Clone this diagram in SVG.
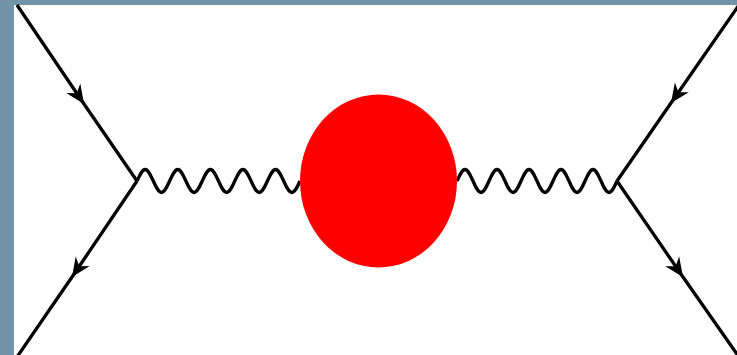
<svg xmlns="http://www.w3.org/2000/svg" width="737" height="355" viewBox="0 0 737 355">
  <style>
    .fermion { fill: none; stroke: #000; stroke-width: 3.3; marker-mid: url(#arrow); }
    .boson { fill: none; stroke: #000; stroke-width: 3.3; stroke-linejoin: round; }
  </style>
  <defs>
    <marker id="arrow" markerUnits="userSpaceOnUse" orient="auto" refX="0" refY="0" markerWidth="20" markerHeight="20" overflow="visible">
      <path d="M0,0 L-19,-8.5 L-13,0 L-19,8.5 Z" fill="#000"/>
    </marker>
  </defs>
  <rect x="0" y="0" width="737" height="355" fill="#7393a8"/>
  <rect x="14" y="5" width="723" height="350" fill="#ffffff"/>
  <g id="connectors">
    <path id="f1" class="fermion" d="M17,5 L84,104 L137,181"/>
    <path id="f2" class="fermion" d="M137,181 L72,277 L17,357"/>
    <path id="f3" class="fermion" d="M739,5 L671,103 L617,181"/>
    <path id="f4" class="fermion" d="M617,181 L683,277 L739,357"/>
    <path id="w1" class="boson" d="M137,181
      c 2.66,-5.89 5.2,-11.5 8.15,-11.5 c 2.95,0 5.49,5.61 8.15,11.5 c 2.66,5.89 5.2,11.5 8.15,11.5 c 2.95,0 5.49,-5.61 8.15,-11.5
      c 2.66,-5.89 5.2,-11.5 8.15,-11.5 c 2.95,0 5.49,5.61 8.15,11.5 c 2.66,5.89 5.2,11.5 8.15,11.5 c 2.95,0 5.49,-5.61 8.15,-11.5
      c 2.66,-5.89 5.2,-11.5 8.15,-11.5 c 2.95,0 5.49,5.61 8.15,11.5 c 2.66,5.89 5.2,11.5 8.15,11.5 c 2.95,0 5.49,-5.61 8.15,-11.5
      c 2.66,-5.89 5.2,-11.5 8.15,-11.5 c 2.95,0 5.49,5.61 8.15,11.5 c 2.66,5.89 5.2,11.5 8.15,11.5 c 2.95,0 5.49,-5.61 8.15,-11.5
      c 2.66,-5.89 5.2,-11.5 8.15,-11.5 c 2.95,0 5.49,5.61 8.15,11.5 c 2.66,5.89 5.2,11.5 8.15,11.5 c 2.95,0 5.49,-5.61 8.15,-11.5"/>
    <path id="w2" class="boson" d="M457,181
      c 2.61,-5.89 5.1,-11.5 8,-11.5 c 2.9,0 5.39,5.61 8,11.5 c 2.61,5.89 5.1,11.5 8,11.5 c 2.9,0 5.39,-5.61 8,-11.5
      c 2.61,-5.89 5.1,-11.5 8,-11.5 c 2.9,0 5.39,5.61 8,11.5 c 2.61,5.89 5.1,11.5 8,11.5 c 2.9,0 5.39,-5.61 8,-11.5
      c 2.61,-5.89 5.1,-11.5 8,-11.5 c 2.9,0 5.39,5.61 8,11.5 c 2.61,5.89 5.1,11.5 8,11.5 c 2.9,0 5.39,-5.61 8,-11.5
      c 2.61,-5.89 5.1,-11.5 8,-11.5 c 2.9,0 5.39,5.61 8,11.5 c 2.61,5.89 5.1,11.5 8,11.5 c 2.9,0 5.39,-5.61 8,-11.5
      c 2.61,-5.89 5.1,-11.5 8,-11.5 c 2.9,0 5.39,5.61 8,11.5 c 2.61,5.89 5.1,11.5 8,11.5 c 2.9,0 5.39,-5.61 8,-11.5"/>
  </g>
  <g id="blob">
    <ellipse cx="378.5" cy="181" rx="78.5" ry="86.5" fill="#ff0000"/>
  </g>
</svg>
